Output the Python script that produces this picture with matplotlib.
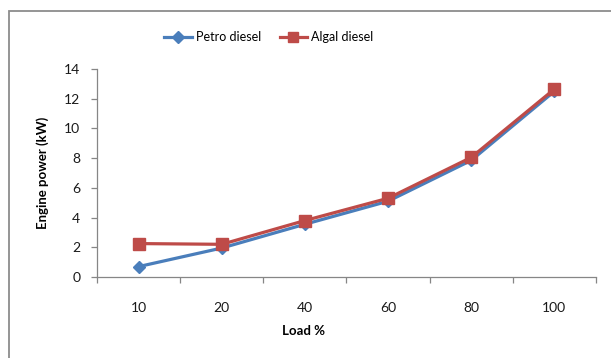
import matplotlib.pyplot as plt
from matplotlib.patches import Rectangle
from matplotlib.lines import Line2D
import numpy as np

loads = ['10', '20', '40', '60', '80', '100']
petro = [0.7, 1.95, 3.55, 5.1, 7.85, 12.5]
algal = [2.25, 2.2, 3.8, 5.3, 8.05, 12.65]

blue = '#4a7ebb'
red = '#be4b48'
grey = '#868686'

plt.rcParams['font.family'] = ['Lato', 'DejaVu Sans']

fig = plt.figure(figsize=(6.11, 3.58), dpi=100)

# chart border, runs off the right and bottom edges
fig.patches.append(Rectangle((9/611, -0.05), 1.0, 1 - 11/358 + 0.05,
                             transform=fig.transFigure, fill=False,
                             edgecolor='#8c8c8c', linewidth=1.3))

ax = fig.add_axes([97/611, 1 - 277/358, (596 - 97)/611, (277 - 69)/358])
x = np.arange(len(loads))
ax.plot(x, petro, color=blue, lw=2.3, marker='D', ms=6.5, mec=blue, zorder=3)
ax.plot(x, algal, color=red, lw=2.3, marker='s', ms=8, mec=red, zorder=4)

ax.set_xlim(-0.5, len(loads) - 0.5)
ax.set_ylim(0, 14)
ax.set_yticks(np.arange(0, 15, 2))
ax.set_xticks(np.arange(-0.5, len(loads), 1.0))
ax.set_xticklabels([])
ax.set_xticks(x, minor=True)
ax.set_xticklabels(loads, minor=True)

for s in ['top', 'right']:
    ax.spines[s].set_visible(False)
for s in ['left', 'bottom']:
    ax.spines[s].set_color(grey)
    ax.spines[s].set_linewidth(0.9)

ax.tick_params(axis='both', which='major', colors=grey, length=4, width=0.9,
               labelcolor='#1a1a1a', labelsize=10)
ax.tick_params(axis='y', pad=8)
ax.tick_params(axis='x', which='minor', length=0, pad=18, labelsize=10,
               labelcolor='#1a1a1a')

fig.text(43/611, 1 - 173/358, 'Engine power (kW)', rotation=90, ha='center',
         va='center', fontsize=9.5, fontweight='bold')
fig.text(304/611, 1 - 331/358, 'Load %', ha='center', va='center',
         fontsize=9.5, fontweight='bold')

handles = [Line2D([], [], color=blue, lw=2.3, marker='D', ms=6),
           Line2D([], [], color=red, lw=2.3, marker='s', ms=7.5)]
fig.legend(handles, ['Petro diesel', 'Algal diesel'], loc='center',
           bbox_to_anchor=(269/611, 1 - 37/358), ncol=2, frameon=False,
           fontsize=9, handlelength=2.2, handletextpad=0.35,
           columnspacing=1.45)

fig.savefig('out.png', dpi=100)
